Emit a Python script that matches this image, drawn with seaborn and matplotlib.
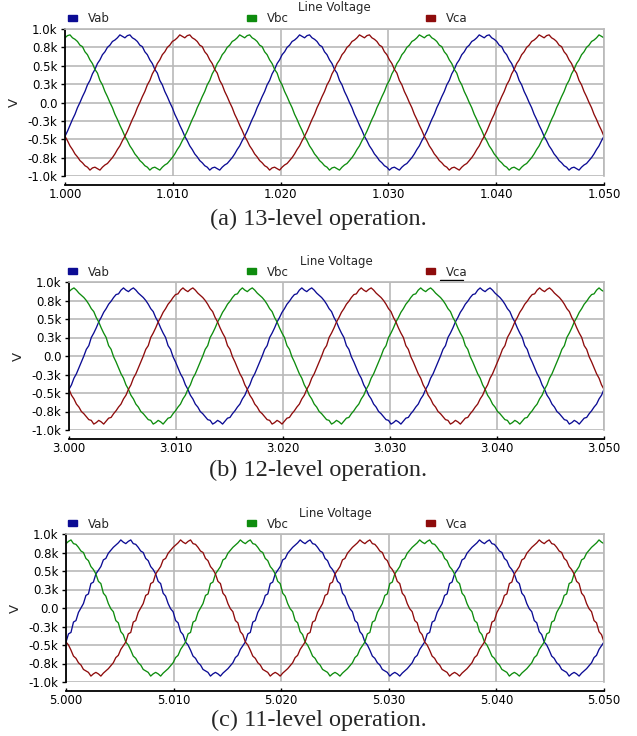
import numpy as np
import pandas as pd
import seaborn as sns
import matplotlib.pyplot as plt
from matplotlib.patches import Patch
from matplotlib.legend import Legend

# one period of Vab per panel, read every 5 degrees starting at the rising zero crossing (kV)
vab_period_13 = [
    0.00, 0.08, 0.15, 0.24, 0.30, 0.39, 0.45, 0.53, 0.58, 0.65, 0.69, 0.75,
    0.78, 0.83, 0.85, 0.88, 0.92, 0.90, 0.88, 0.91, 0.92, 0.88, 0.86, 0.83,
    0.78, 0.76, 0.69, 0.65, 0.58, 0.53, 0.45, 0.40, 0.30, 0.24, 0.15, 0.08,
    -0.00, -0.07, -0.16, -0.23, -0.31, -0.38, -0.46, -0.52, -0.59, -0.64, -0.70, -0.74,
    -0.79, -0.82, -0.86, -0.88, -0.92, -0.89, -0.88, -0.90, -0.92, -0.88, -0.85, -0.83,
    -0.79, -0.75, -0.70, -0.64, -0.59, -0.52, -0.46, -0.39, -0.31, -0.23, -0.16, -0.07,
]
vab_period_12 = [
    0.00, 0.09, 0.14, 0.25, 0.31, 0.38, 0.46, 0.52, 0.59, 0.64, 0.70, 0.74,
    0.79, 0.83, 0.84, 0.89, 0.92, 0.89, 0.87, 0.90, 0.92, 0.89, 0.85, 0.82,
    0.79, 0.75, 0.70, 0.64, 0.60, 0.52, 0.46, 0.38, 0.31, 0.25, 0.14, 0.09,
    -0.01, -0.08, -0.16, -0.24, -0.30, -0.39, -0.45, -0.53, -0.58, -0.65, -0.69, -0.75,
    -0.78, -0.82, -0.86, -0.87, -0.92, -0.90, -0.87, -0.89, -0.92, -0.88, -0.84, -0.83,
    -0.78, -0.74, -0.69, -0.65, -0.58, -0.53, -0.45, -0.39, -0.30, -0.24, -0.16, -0.08,
]
vab_period_11 = [
    0.00, 0.06, 0.17, 0.19, 0.33, 0.35, 0.46, 0.51, 0.56, 0.65, 0.67, 0.74,
    0.78, 0.82, 0.85, 0.88, 0.92, 0.89, 0.87, 0.90, 0.92, 0.87, 0.86, 0.82,
    0.77, 0.75, 0.67, 0.64, 0.56, 0.52, 0.46, 0.36, 0.33, 0.20, 0.16, 0.06,
    -0.01, -0.05, -0.17, -0.20, -0.32, -0.36, -0.46, -0.50, -0.57, -0.65, -0.68, -0.74,
    -0.77, -0.83, -0.85, -0.87, -0.92, -0.89, -0.87, -0.89, -0.92, -0.88, -0.85, -0.82,
    -0.78, -0.74, -0.67, -0.64, -0.56, -0.51, -0.46, -0.35, -0.33, -0.19, -0.17, -0.06,
]
panel_periods = [vab_period_13, vab_period_12, vab_period_11]

period_s = 1 / 60
series_names = ["Vab", "Vbc", "Vca"]
series_colors = ["#0c0c94", "#0e8c0e", "#8e0c0c"]
start_index = [66, 18, 42]  # phase of each line voltage at the left edge, in 5 degree steps

panel_starts = [1.000, 3.000, 5.000]
window_s = 0.050
panel_captions = ["(a) 13-level operation.", "(b) 12-level operation.", "(c) 11-level operation."]

x_tick_steps = [0.000, 0.010, 0.020, 0.030, 0.040, 0.050]
y_ticks = [-1.0, -0.75, -0.5, -0.25, 0.0, 0.25, 0.5, 0.75, 1.0]
y_tick_labels = ["-1.0k", "-0.8k", "-0.5k", "-0.3k", "0.0", "0.3k", "0.5k", "0.8k", "1.0k"]

# axes boxes in pixels: left, top, right, bottom
W, H = 637, 736
boxes = [(65, 29, 604, 176), (69, 282, 604, 430), (66, 534, 604, 682)]
caption_y = [219, 470, 720]
legend_x = [68, 247, 426]  # left edge of each legend swatch, pixels

sns.set_style("white")
plt.rcParams["font.family"] = ["DejaVu Sans"]

fig = plt.figure(figsize=(W / 100, H / 100), dpi=100)

for p in range(3):
    l, t, r, b = boxes[p]
    ax = fig.add_axes([l / W, 1 - b / H, (r - l) / W, (b - t) / H])
    h_px = b - t
    w_px = r - l

    period = panel_periods[p]
    n = len(period)
    n_samples = int(round(window_s / period_s * n)) + 1
    times = panel_starts[p] + np.arange(n_samples) * period_s / n

    rows = []
    for name, s0 in zip(series_names, start_index):
        for k in range(n_samples):
            rows.append((times[k], period[(s0 + k) % n], name))
    df = pd.DataFrame(rows, columns=["t", "v", "series"])

    sns.lineplot(data=df, x="t", y="v", hue="series", hue_order=series_names,
                 palette=dict(zip(series_names, series_colors)),
                 estimator=None, sort=False, legend=False, linewidth=0.95, ax=ax)

    t0 = panel_starts[p]
    ax.set_xlim(t0, t0 + window_s)
    ax.set_ylim(-1.0, 1.0)
    ax.set_xticks([t0 + s for s in x_tick_steps])
    ax.set_xticklabels([f"{t0 + s:.3f}" for s in x_tick_steps])
    ax.set_yticks(y_ticks)
    ax.set_yticklabels(y_tick_labels)
    ax.set_xlabel("")
    ax.set_ylabel("V", fontsize=9.5)
    ax.yaxis.set_label_coords(-44 / w_px, 0.5)

    ax.grid(True, color="#b9b9b9", linewidth=1.2)
    ax.set_axisbelow(True)
    for side in ["top", "right"]:
        ax.spines[side].set_color("#b9b9b9")
        ax.spines[side].set_linewidth(1.2)
    ax.spines["left"].set_color("black")
    ax.spines["left"].set_linewidth(1.3)
    ax.spines["bottom"].set_color("black")
    ax.spines["bottom"].set_linewidth(1.3)
    ax.spines["bottom"].set_position(("outward", 9 * 0.72))

    ax.tick_params(axis="y", direction="out", length=3, width=1, pad=2.5,
                   labelsize=8.5, colors="black", left=True)
    ax.tick_params(axis="x", direction="in", length=2.5, width=1, pad=2.5,
                   labelsize=8.5, colors="black", bottom=True)

    ax.text(0.5, 1 + 21 / h_px, "Line Voltage", transform=ax.transAxes,
            ha="center", va="center", fontsize=8.5)

    for nm, c, lx in zip(series_names, series_colors, legend_x):
        leg = Legend(ax, [Patch(facecolor=c, edgecolor=c)], [nm],
                     loc="center left", bbox_to_anchor=((lx - l) / w_px, 1 + 10 / h_px),
                     frameon=False, fontsize=8.5, handlelength=0.75, handleheight=0.35,
                     handletextpad=0.9, borderaxespad=0, borderpad=0)
        ax.add_artist(leg)

    if p == 1:
        # stray underline under the Vca entry in the middle panel
        ax.plot([(440 - l) / w_px, (463 - l) / w_px], [1 + 2 / h_px, 1 + 2 / h_px],
                transform=ax.transAxes, color="black", lw=1, clip_on=False)

    fig.text(0.5, 1 - caption_y[p] / H, panel_captions[p], ha="center", va="center",
             family=["Liberation Serif", "DejaVu Serif"], fontsize=17.5)

fig.savefig("out.png", dpi=100)
